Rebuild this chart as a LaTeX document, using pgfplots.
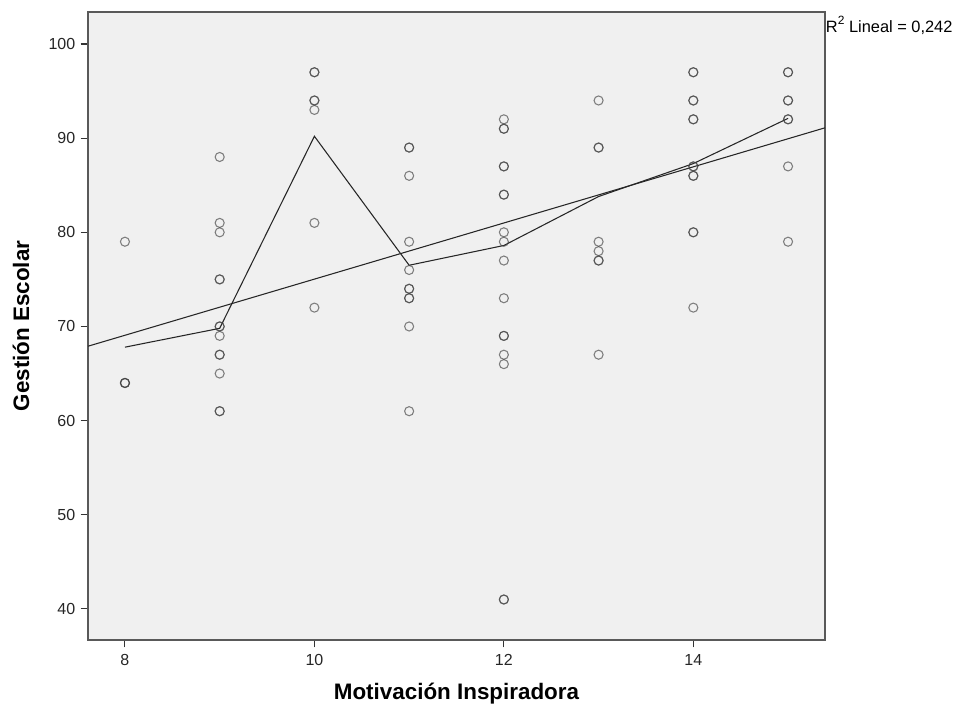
\documentclass[border=0pt]{standalone}
\usepackage{pgfplots}
\pgfplotsset{compat=1.18}
\usetikzlibrary{calc}
\usepackage{fontspec}
\setmainfont{Liberation Sans}
\definecolor{plotbg}{HTML}{F0F0F0}
\definecolor{markc}{HTML}{404040}
\begin{document}
\begin{tikzpicture}
\begin{axis}[
  name=ax,
  scale only axis,
  width=552.75pt, height=471pt,
  xmin=7.61, xmax=15.39, ymin=36.7, ymax=103.4,
  xtick={8,10,12,14}, ytick={40,50,...,100},
  axis background/.style={fill=plotbg},
  axis line style={draw=black!65, line width=0.9pt},
  tick style={draw=black!80, line width=0.8pt},
  tick align=outside, major tick length=5.5pt,
  xtick pos=bottom, ytick pos=left,
  /pgf/number format/assume math mode=true,
  ticklabel style={font=\fontsize{12}{13}\selectfont, text=black!85},
  xticklabel style={yshift=-2pt},
  yticklabel style={xshift=-0.5pt},
  xlabel={Motivación Inspiradora}, ylabel={Gestión Escolar},
  label style={font=\fontsize{16.8}{19}\selectfont\bfseries},
  xlabel style={at={(axis description cs:0.5,-0.086)}, anchor=center},
  ylabel style={at={(axis description cs:-0.091,0.5)}, anchor=center},
  clip=false,
]
\addplot[only marks, mark=o, mark size=3.4pt, mark options={draw=markc, draw opacity=0.65, line width=0.8pt}] coordinates {
 (8,79) (8,64) (8,64) (8,64)
 (9,88) (9,81) (9,80) (9,75) (9,75) (9,70) (9,70) (9,69) (9,67) (9,67) (9,65) (9,61) (9,61)
 (10,97) (10,97) (10,94) (10,94) (10,93) (10,81) (10,72)
 (11,89) (11,89) (11,86) (11,79) (11,76) (11,74) (11,74) (11,73) (11,73) (11,70) (11,61)
 (12,92) (12,91) (12,91) (12,87) (12,87) (12,84) (12,84) (12,80) (12,79) (12,77) (12,73) (12,69) (12,69) (12,67) (12,66) (12,41) (12,41)
 (13,94) (13,89) (13,89) (13,79) (13,78) (13,77) (13,77) (13,67)
 (14,97) (14,97) (14,94) (14,94) (14,92) (14,92) (14,87) (14,87) (14,86) (14,86) (14,80) (14,80) (14,72)
 (15,97) (15,97) (15,94) (15,94) (15,92) (15,92) (15,87) (15,79)
};
\addplot[black!85, line width=0.8pt] coordinates {
 (8,67.8) (9,69.8) (10,90.2) (11,76.5) (12,78.6) (13,83.8) (14,87.3) (15,92.1)
};
\addplot[black!85, line width=0.8pt] coordinates {
 (7.61,67.9) (15.39,91.1)
};
\node[anchor=west, inner sep=0.5pt, yshift=-10pt, font=\fontsize{12.3}{13}\selectfont] at (rel axis cs:1,1) {R\raisebox{0.45em}{\fontsize{9}{9}\selectfont 2} Lineal = 0,242};
\end{axis}
\path ($(ax.south west)+(-66pt,-50.25pt)$) rectangle ($(ax.north east)+(102.75pt,9pt)$);
\end{tikzpicture}
\end{document}
